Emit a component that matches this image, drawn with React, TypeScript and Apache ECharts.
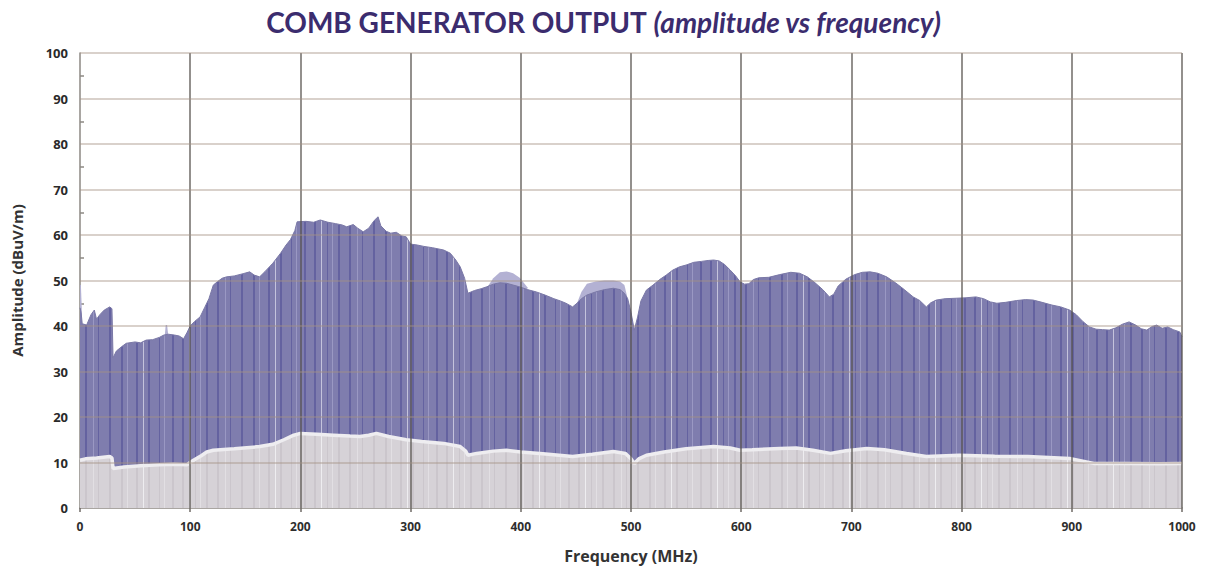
import React, { useEffect, useRef } from "react";
import * as echarts from "echarts";

// [frequency MHz, amplitude dBuV/m]
const upperEnvelope: [number, number][] = [
  [0, 44], [1, 43], [2, 40.5], [6, 40.2], [10, 42.5], [13, 43.5], [15, 41.5], [18, 42.5], [22, 43.5], [27, 44.2], [29, 43.8],
  [30, 33], [33, 34.5], [38, 35.5], [42, 36.2], [50, 36.5], [55, 36.3], [60, 36.9], [66, 37], [72, 37.5], [76, 38], [80, 38.2],
  [86, 38], [90, 37.8], [94, 37.2], [97, 38.5], [100, 40], [104, 41], [109, 42], [113, 44], [117, 46], [121, 49], [125, 49.8],
  [129, 50.5], [133, 50.8], [140, 51], [148, 51.5], [154, 51.9], [158, 51.2], [163, 50.8], [168, 52], [175, 53.8], [182, 56],
  [187, 57.8], [191, 59], [195, 61], [197, 62.9], [205, 63], [212, 62.8], [218, 63.3], [225, 62.8], [232, 62.5], [238, 62.2],
  [242, 61.8], [248, 62.3], [252, 61.5], [257, 60.7], [262, 61.5], [267, 63.2], [270.5, 64], [273, 62], [278, 60.8], [282, 60.4],
  [287, 60.6], [292, 59.8], [296, 59.6], [300, 58], [306, 57.8], [312, 57.5], [320, 57.2], [330, 56.7], [336, 56], [341, 54.5],
  [345, 53], [349, 50.5], [352, 47.2], [358, 47.8], [364, 48.2], [369, 48.6], [375, 49.2], [381, 49.5], [387, 49.4], [393, 49],
  [399, 48.6], [406, 48], [414, 47.5], [422, 46.8], [430, 46], [436, 45.5], [441, 45], [447, 44.2], [451, 45], [455, 46],
  [460, 46.8], [468, 47.5], [476, 48], [484, 48.3], [490, 48], [494, 47.2], [497, 46], [500, 43], [503, 39.1], [506, 42],
  [509, 45.5], [514, 47.9], [520, 49], [526, 50.2], [532, 51.2], [538, 52.3], [544, 53], [550, 53.4], [557, 54], [564, 54.2],
  [570, 54.4], [575, 54.5], [580, 54.3], [585, 53.5], [590, 52.3], [595, 51], [599, 49.7], [603, 49.2], [607, 49.3], [611, 50.2],
  [616, 50.6], [625, 50.7], [635, 51.3], [645, 51.8], [653, 51.6], [660, 50.8], [667, 49.5], [674, 48], [680, 46.4], [684, 47],
  [688, 48.8], [695, 50.3], [703, 51.3], [710, 51.8], [717, 51.9], [724, 51.6], [732, 50.8], [740, 49.5], [748, 48], [756, 46.4],
  [762, 45.6], [768, 44.2], [772, 45.1], [777, 45.7], [785, 46], [795, 46.1], [804, 46.2], [813, 46.4], [820, 46], [826, 45.3],
  [832, 45], [840, 45.2], [850, 45.6], [858, 45.8], [865, 45.7], [873, 45.2], [882, 44.6], [890, 44.2], [898, 43.5], [904, 42.5],
  [910, 41], [916, 39.8], [922, 39.3], [928, 39.2], [934, 39.1], [940, 39.6], [946, 40.4], [952, 40.9], [958, 40.2], [963, 39.4],
  [968, 39.1], [973, 39.9], [977, 40.2], [982, 39.5], [987, 39.8], [992, 39.2], [998, 38.7], [1000, 37.6],
];

const lowerEnvelope: [number, number][] = [
  [0, 10.5], [5, 10.8], [15, 11], [27, 11.3], [29, 11], [30, 8.7], [40, 9], [55, 9.3], [72, 9.5], [85, 9.6], [97, 9.5],
  [103, 10.5], [110, 11.5], [115, 12.3], [121, 12.7], [140, 13], [163, 13.5], [175, 14], [185, 15], [194, 16], [200, 16.4],
  [215, 16.2], [230, 16], [245, 15.8], [254, 15.7], [262, 16], [269, 16.4], [280, 15.7], [296, 15], [310, 14.6], [330, 14.2],
  [345, 13.5], [350, 12.5], [352, 11.6], [360, 12], [375, 12.5], [387, 12.7], [400, 12.3], [420, 11.9], [447, 11.3], [465, 11.8],
  [484, 12.4], [495, 12], [500, 10.8], [503, 9.8], [507, 10.8], [514, 11.6], [530, 12.3], [550, 13], [575, 13.5], [590, 13.2],
  [599, 12.7], [610, 12.8], [635, 13.1], [650, 13.2], [665, 12.7], [681, 12], [695, 12.6], [714, 13.1], [730, 12.8], [750, 12],
  [768, 11.3], [798, 11.6], [830, 11.4], [860, 11.3], [898, 10.9], [910, 10.3], [920, 9.8], [950, 9.8], [980, 9.7], [1000, 9.8],
];

// light "max hold" segments above the main envelope
const peakSegments: [number, number][][] = [
  [[0, 49], [0.8, 49], [1.6, 44]],
  [[77, 38], [77.8, 40.2], [79, 40.2], [80, 38.2]],
  [[370, 48.7], [375, 50.5], [381, 51.8], [387, 52], [393, 51.6], [399, 50.6], [406, 48.5]],
  [[451, 45], [455, 47.5], [460, 49.3], [468, 49.8], [476, 50], [484, 50], [490, 49.8], [494, 49], [497, 46]],
];

const xTicks = [100, 200, 300, 400, 500, 600, 700, 800, 900, 1000];
const yTicks = [10, 20, 30, 40, 50, 60, 70, 80, 90, 100];

function makePattern(base: string, dark: string, light: string, white: string) {
  const W = 132;
  const H = 8;
  const c = document.createElement("canvas");
  c.width = W;
  c.height = H;
  const ctx = c.getContext("2d")!;
  ctx.fillStyle = base;
  ctx.fillRect(0, 0, W, H);
  const darkS = [[4, 2], [16, 2], [27, 1], [40, 2], [50, 2], [63, 1], [74, 2], [85, 2], [98, 1], [109, 2], [121, 2]];
  ctx.fillStyle = dark;
  darkS.forEach(([x, w]) => ctx.fillRect(x, 0, w, H));
  ctx.fillStyle = light;
  [32, 68, 93, 127].forEach((x) => ctx.fillRect(x, 0, 1, H));
  ctx.fillStyle = white;
  [57, 11].forEach((x) => ctx.fillRect(x, 0, 1, H));
  return { image: c, repeat: "repeat", imageWidth: W, imageHeight: H } as any;
}

export default function App() {
  const ref = useRef<HTMLDivElement>(null);
  useEffect(() => {
    if (!ref.current) return;
    const chart = echarts.init(ref.current, null, { renderer: "svg" });
    const bluePattern = makePattern("#7f7dae", "#6462a0", "#9a98c3", "#c4c3dc");
    const grayPattern = makePattern("#d6d2d7", "#cbc6cc", "#e2dfe3", "#eeedf0");
    const font = "'Open Sans', 'DejaVu Sans', sans-serif";
    const option: any = {
      animation: false,
      backgroundColor: "#ffffff",
      title: {
        text: "{a|COMB GENERATOR OUTPUT }{b|(amplitude vs frequency)}",
        left: "center",
        top: 3,
        textStyle: {
          rich: {
            a: { fontFamily: "Lato, sans-serif", fontWeight: "bold", fontSize: 28, color: "#3b2c6e" },
            b: { fontFamily: "Lato, sans-serif", fontWeight: "bold", fontStyle: "italic", fontSize: 28, color: "#3b2c6e" },
          },
        },
      },
      grid: { left: 80, right: 25, top: 53, bottom: 61, containLabel: false },
      xAxis: {
        type: "value",
        min: 0,
        max: 1000,
        interval: 100,
        name: "Frequency (MHz)",
        nameLocation: "middle",
        nameGap: 40,
        nameTextStyle: { fontFamily: font, fontWeight: "bold", fontSize: 16, color: "#333333" },
        axisLine: { show: true, lineStyle: { color: "#8d8883", width: 1.5 } },
        axisTick: { show: true, length: 4, lineStyle: { color: "#6f6a66", width: 1.5 } },
        minorTick: { show: true, splitNumber: 2, length: -4, lineStyle: { color: "#8d8883", width: 1.5 } },
        axisLabel: {
          fontFamily: font, fontWeight: "bold", fontSize: 12, color: "#2e2e2e", margin: 12,
          formatter: (v: number) => String(v),
        },
        splitLine: { show: false },
      },
      yAxis: {
        type: "value",
        min: 0,
        max: 100,
        interval: 10,
        name: "Amplitude (dBuV/m)",
        nameLocation: "middle",
        nameGap: 56,
        nameTextStyle: { fontFamily: font, fontWeight: "bold", fontSize: 15, color: "#333333" },
        axisLine: { show: true, lineStyle: { color: "#8d8883", width: 1.5 } },
        axisTick: { show: false },
        minorTick: { show: true, splitNumber: 2, length: -4, lineStyle: { color: "#8d8883", width: 1.5 } },
        axisLabel: { fontFamily: font, fontWeight: "bold", fontSize: 13, color: "#2a2a2a", margin: 12 },
        splitLine: { show: false },
      },
      series: [
        ...peakSegments.map((seg) => ({
          type: "line",
          data: seg,
          showSymbol: false,
          silent: true,
          z: 1,
          lineStyle: { width: 0 },
          areaStyle: { color: "#b3b1d3", opacity: 1 },
        })),
        {
          type: "line",
          name: "upper",
          data: upperEnvelope,
          showSymbol: false,
          silent: true,
          z: 2,
          lineStyle: { width: 1, color: "#7a78a6" },
          areaStyle: { color: bluePattern, opacity: 1 },
        },
        {
          type: "line",
          name: "lower",
          data: lowerEnvelope,
          showSymbol: false,
          silent: true,
          z: 3,
          lineStyle: { width: 3.5, color: "#eeedf0" },
          areaStyle: { color: grayPattern, opacity: 1 },
          markLine: {
            silent: true,
            symbol: "none",
            label: { show: false },
            z: 10,
            data: [
              ...xTicks.map((v) => ({ xAxis: v, lineStyle: { color: "rgba(85,80,76,0.85)", width: 1.5, type: "solid" } })),
              ...yTicks.map((v) => ({ yAxis: v, lineStyle: { color: "rgba(165,145,130,0.42)", width: 2, type: "solid" } })),
            ],
          },
        },
      ],
    };
    chart.setOption(option);
    return () => chart.dispose();
  }, []);
  return (
    <div
      ref={ref}
      style={{ position: "fixed", left: 0, top: 0, width: 1207, height: 569, background: "#fff" }}
    />
  );
}
